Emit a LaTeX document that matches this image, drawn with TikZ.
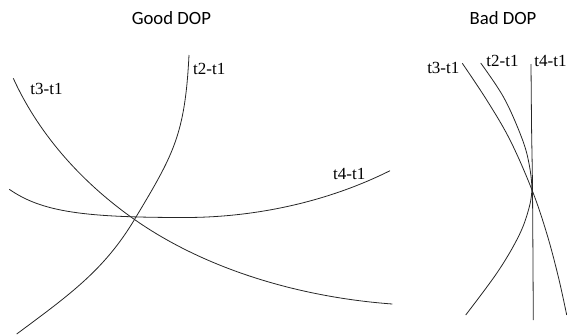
\documentclass[tikz,border=0pt]{standalone}
\usepackage{fontspec}
\setmainfont{Liberation Serif}
\newfontfamily\titlefont{Carlito}
\begin{document}
\begin{tikzpicture}[x=1pt,y=-1pt,
  curve/.style={line width=0.8pt,draw=black!85},
  lbl/.style={inner sep=0pt,font=\fontsize{17}{18}\selectfont},
  ttl/.style={inner sep=0pt,font=\titlefont\fontsize{18.7}{20}\selectfont}]
\useasboundingbox (0,0) rectangle (567,335);
% titles
\node[ttl] (good) at (171.4,17.8) {Good DOP};
\node[ttl] (bad) at (503,17.8) {Bad DOP};
% Good DOP curves
\coordinate (gx) at (134.5,219.5);
\draw[curve] (189,55) .. controls (185,135) and (173.5,154.5) .. (gx)
  .. controls (104.5,269.5) and (70.7,294) .. (16.7,334);
\draw[curve] (13.3,78.3) .. controls (40.2,137.5) and (85.4,185.1) .. (gx)
  .. controls (208.2,271.1) and (303.5,297.5) .. (392.3,304);
\draw[curve] (9.3,189.3) .. controls (42.1,212.2) and (85,217.5) .. (185,217.5)
  .. controls (255,217.5) and (327.4,202) .. (390,170.7);
\node[lbl] (g2) at (209.2,68.7) {t2-t1};
\node[lbl] (g3) at (46.5,89.2) {t3-t1};
\node[lbl] (g4) at (349.2,173.5) {t4-t1};
% Bad DOP curves
\draw[curve] plot[smooth,tension=0.6] coordinates {(462.3,63.3) (486.7,100) (510,140) (532,190) (546.7,233.3) (558.3,276.7) (566.7,315)};
\draw[curve] plot[smooth,tension=0.6] coordinates {(480.7,63) (503.3,96.7) (520,133.3) (528.3,160) (531.8,190) (527,215) (516.7,240) (496.7,273.3) (465.7,315)};
\draw[curve] plot[smooth,tension=0.6] coordinates {(531,64) (531.6,130) (532.5,190) (533.3,320)};
\node[lbl] (b3) at (443.3,67.5) {t3-t1};
\node[lbl] (b2) at (502.5,61) {t2-t1};
\node[lbl] (b4) at (550.5,61) {t4-t1};
\end{tikzpicture}
\end{document}
